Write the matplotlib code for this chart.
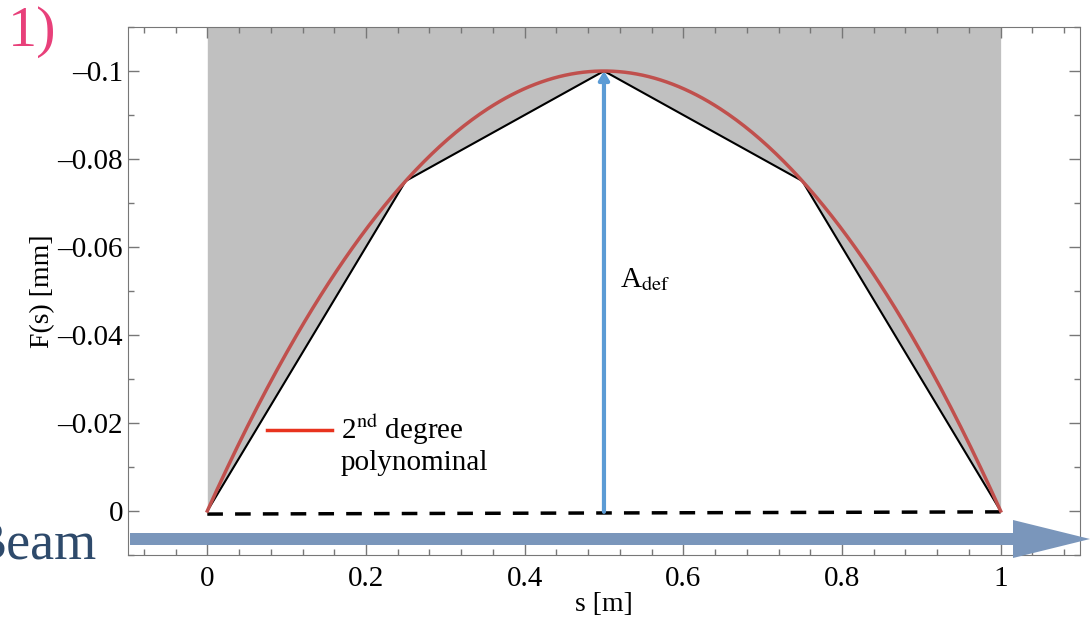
import numpy as np
import matplotlib
matplotlib.use("Agg")
import matplotlib.pyplot as plt
from matplotlib.ticker import MultipleLocator, FuncFormatter
from matplotlib.patches import FancyArrow

plt.rcParams['font.family'] = ['Liberation Serif', 'DejaVu Serif']
plt.rcParams['mathtext.fontset'] = 'stix'

# piecewise support points (s [m], F(s) [mm])
s_pts = [0.0, 0.25, 0.5, 0.75, 1.0]
f_pts = [0.0, -0.075, -0.1, -0.075, 0.0]

# 2nd degree polynominal through the apex
poly_coef = [0.4, -0.4, 0.0]   # F(s) = 0.4 s^2 - 0.4 s

# dashed reference line
ref_s = [0.0, 1.0]
ref_f = [0.0007, 0.0002]

a_def_s = 0.5
a_def = -0.1

fig = plt.figure(figsize=(10.9, 6.17), dpi=100)
ax = fig.add_axes([0.1174, 0.1005, 0.8734, 0.8557])
ax.set_xlim(-0.1, 1.1)
ax.set_ylim(0.01, -0.11)

# gray area above the piecewise line
s_fine = np.linspace(0, 1, 400)
f_lin = np.interp(s_fine, s_pts, f_pts)
ax.fill_between(s_fine, f_lin, -0.11, color='#c0c0c0', lw=0, zorder=1)

ax.plot(s_pts, f_pts, color='black', lw=1.5, zorder=3)
ax.plot(s_fine, np.polyval(poly_coef, s_fine), color='#c0504d', lw=2.5, zorder=4)
ax.plot(ref_s, ref_f, color='black', lw=2.5, ls=(0, (4.5, 3.5)), zorder=3)

# A_def arrow
ax.annotate('', xy=(a_def_s, a_def), xytext=(a_def_s, 0.0002),
            arrowprops=dict(arrowstyle='-|>,head_width=0.3,head_length=0.5',
                            color='#5b9bd5', lw=3, shrinkA=0, shrinkB=0), zorder=5)
ax.text(0.52, -0.0525, r'A$_{\mathrm{def}}$', fontsize=21, ha='left', va='center')

# legend entry
ax.plot([0.075, 0.157], [-0.0185, -0.0185], color='#e8331e', lw=2.5)
ax.text(0.168, -0.0185, r'2$^{\mathrm{nd}}$ degree', fontsize=21, va='center')
ax.text(0.168, -0.011, 'polynominal', fontsize=21, va='center')

# ticks
ax.xaxis.set_major_locator(MultipleLocator(0.2))
ax.xaxis.set_minor_locator(MultipleLocator(0.04))
ax.yaxis.set_major_locator(MultipleLocator(0.02))
ax.yaxis.set_minor_locator(MultipleLocator(0.01))
ax.xaxis.set_major_formatter(FuncFormatter(lambda v, p: '0' if abs(v) < 1e-9 else ('1' if abs(v - 1) < 1e-9 else f'{v:.1f}')))
ax.yaxis.set_major_formatter(FuncFormatter(lambda v, p: '0' if abs(v) < 1e-9 else f'{v:.2f}'.replace('-0.10', '-0.1').replace('-', '\u2013')))
ax.tick_params(which='both', direction='in', top=True, right=True, colors='#777777', labelcolor='black', labelsize=21)
ax.tick_params(which='major', length=8, width=1)
ax.tick_params(which='minor', length=4, width=1)
ax.tick_params(axis='x', pad=8)
for sp in ax.spines.values():
    sp.set_color('#777777')
ax.set_xlabel('s [m]', fontsize=20, labelpad=0)
ax.set_ylabel('F(s) [mm]', fontsize=20, labelpad=2)

# beam arrow (figure coords, y from bottom)
beam = FancyArrow(130 / 1090, 1 - 539 / 617, 960 / 1090, 0, width=12 / 617,
                  head_width=38 / 617, head_length=77 / 1090,
                  length_includes_head=True, color='#7a96bb', lw=0,
                  transform=fig.transFigure, zorder=10)
fig.patches.append(beam)
fig.text(97 / 1090, 1 - 545 / 617, 'Beam', fontsize=39, color='#2e4a6b',
         ha='right', va='center')
fig.text(8 / 1090, 1 - 32 / 617, '1)', fontsize=42, color='#e8407a',
         ha='left', va='center')

fig.savefig('out.png', dpi=100)
